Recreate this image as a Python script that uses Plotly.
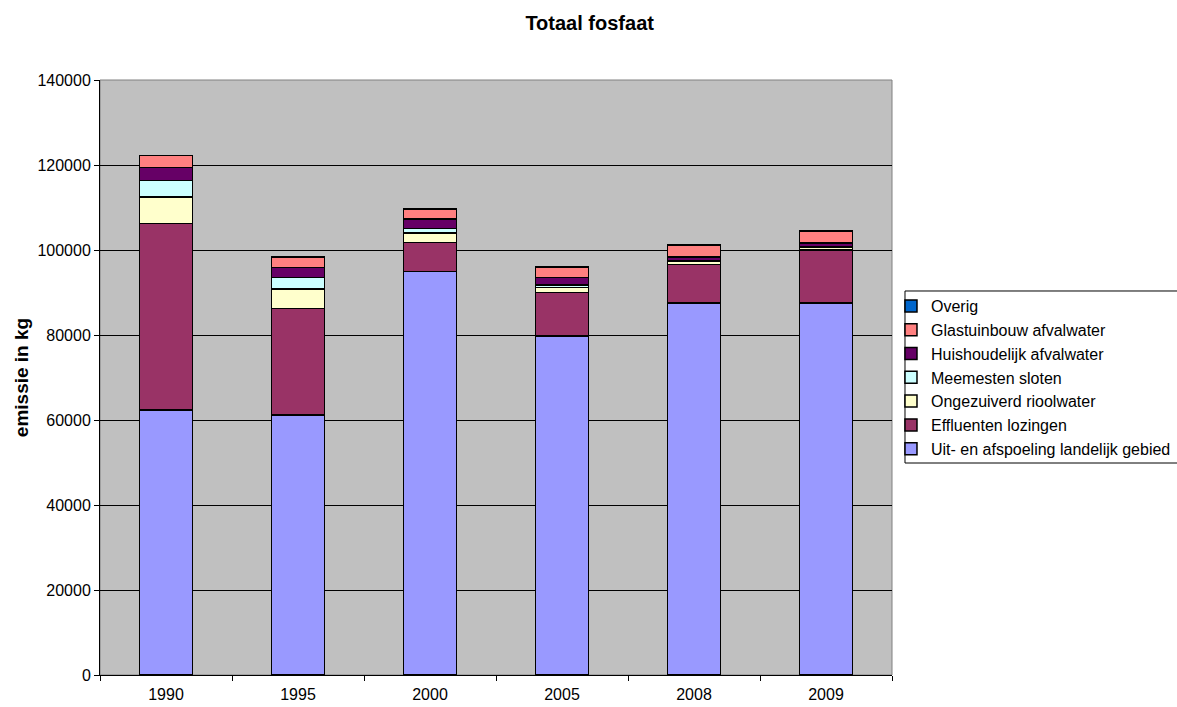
import plotly.graph_objects as go

years = ["1990", "1995", "2000", "2005", "2008", "2009"]
uit = [62300, 61200, 95000, 79800, 87500, 87500]
effluenten = [43900, 25000, 6800, 10200, 9100, 12500]
ongezuiverd = [6300, 4600, 2200, 1200, 800, 700]
meemesten = [3800, 2700, 1100, 600, 150, 100]
huishoudelijk = [3100, 2400, 2200, 1700, 800, 800]
glastuinbouw = [2800, 2500, 2300, 2500, 2800, 2900]
overig = [50, 50, 50, 50, 50, 50]

series = [
    ("Uit- en afspoeling landelijk gebied", uit, "#9999FF"),
    ("Effluenten lozingen", effluenten, "#993366"),
    ("Ongezuiverd rioolwater", ongezuiverd, "#FFFFCC"),
    ("Meemesten sloten", meemesten, "#CCFFFF"),
    ("Huishoudelijk afvalwater", huishoudelijk, "#660066"),
    ("Glastuinbouw afvalwater", glastuinbouw, "#FF8080"),
    ("Overig", overig, "#0066CC"),
]

fig = go.Figure()
for name, vals, col in series:
    fig.add_trace(go.Bar(x=years, y=vals, name=name,
                         marker=dict(color=col, line=dict(color="black", width=1.5))))

fig.update_layout(
    barmode="stack",
    bargap=0.6,
    width=1177, height=707,
    margin=dict(l=100, r=285, t=80, b=32, autoexpand=False),
    paper_bgcolor="white",
    plot_bgcolor="#C0C0C0",
    font=dict(family="Arial, Liberation Sans, sans-serif", size=16, color="black"),
    title=dict(text="<b>Totaal fosfaat</b>", x=0.501, xanchor="center", y=0.967, yanchor="middle",
               font=dict(size=20)),
    legend=dict(traceorder="reversed", xref="container", yref="container",
                x=0.757, xanchor="left", y=0.5912, yanchor="top",
                borderwidth=0, bgcolor="rgba(0,0,0,0)",
                font=dict(size=16), itemwidth=30, tracegroupgap=0),
    xaxis=dict(type="category", showline=True, linecolor="black", mirror=False,
               ticks="outside", ticklen=5, tickson="boundaries", tickcolor="black",
               showgrid=False, tickfont=dict(size=16), automargin=False, ticklabelstandoff=5),
    yaxis=dict(range=[0, 140000], dtick=20000, showgrid=True, gridcolor="black", gridwidth=1,
               showline=True, linecolor="black", ticks="outside", ticklen=5, tickcolor="black",
               zeroline=False, tickformat="d", tickfont=dict(size=16), automargin=False,
               title=dict(text="<b>emissie in kg</b>", font=dict(size=19), standoff=3)),
)
fig.add_shape(type="rect", xref="paper", yref="paper", x0=0, y0=0, x1=1, y1=1,
              line=dict(color="#808080", width=1), layer="below")
# legend frame
fig.add_shape(type="rect", xref="paper", yref="paper", x0=1.0164, y0=0.3563, x1=1.362, y1=0.6454,
              line=dict(color="black", width=1), fillcolor="white", layer="below")

fig.write_html("out.html")
